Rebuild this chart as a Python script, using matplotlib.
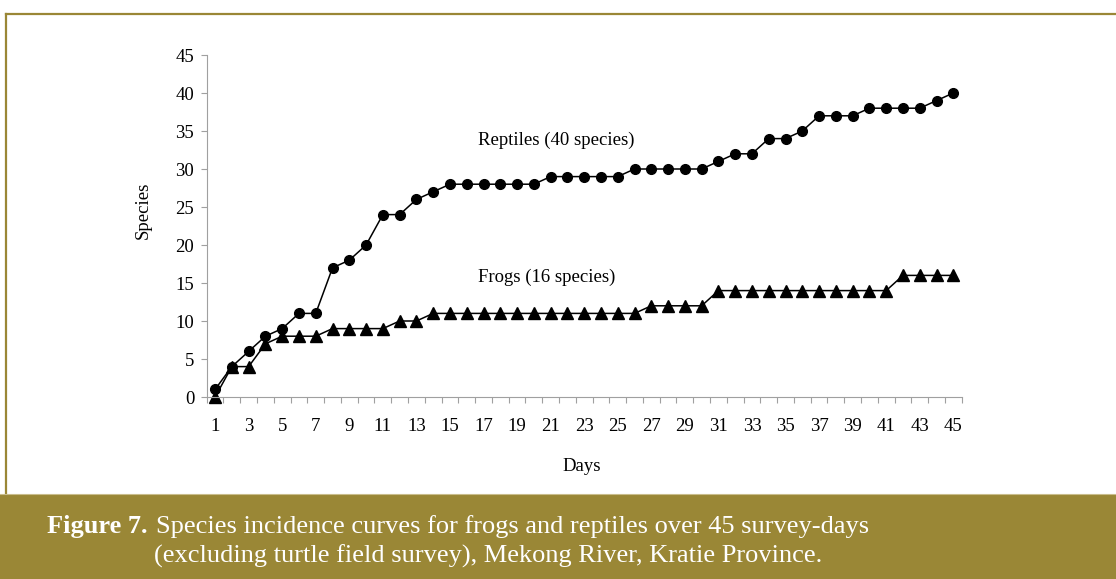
import matplotlib.pyplot as plt
from matplotlib.patches import Rectangle
from matplotlib.lines import Line2D
import numpy as np

plt.rcParams['font.family'] = ['Liberation Serif', 'DejaVu Serif']

days = list(range(1, 46))
reptiles = [1, 4, 6, 8, 9, 11, 11, 17, 18, 20, 24, 24, 26, 27, 28, 28, 28, 28, 28, 28,
            29, 29, 29, 29, 29, 30, 30, 30, 30, 30, 31, 32, 32, 34, 34, 35, 37, 37, 37,
            38, 38, 38, 38, 39, 40]
frogs = [0, 4, 4, 7, 8, 8, 8, 9, 9, 9, 9, 10, 10, 11, 11, 11, 11, 11, 11, 11,
         11, 11, 11, 11, 11, 11, 12, 12, 12, 12, 14, 14, 14, 14, 14, 14, 14, 14, 14,
         14, 14, 16, 16, 16, 16]
tick_days = days[::2]

olive = '#9a8736'
axis_grey = '#a0a0a0'

fig = plt.figure(figsize=(11.16, 5.79), dpi=100)
fig.patch.set_facecolor('white')

# frame and caption band
fig.add_artist(Rectangle((0, 0), 1, 84 / 579, transform=fig.transFigure,
                         facecolor=olive, edgecolor='none', zorder=0))
fig.add_artist(Line2D([6 / 1116, 1], [1 - 14 / 579, 1 - 14 / 579], transform=fig.transFigure,
                      color=olive, lw=1.6))
fig.add_artist(Line2D([6 / 1116, 6 / 1116], [84 / 579, 1 - 14 / 579], transform=fig.transFigure,
                      color=olive, lw=1.6))
fig.add_artist(Line2D([0, 1], [85 / 579, 85 / 579], transform=fig.transFigure,
                      color='#c9bd8c', lw=0.8))

ax = fig.add_axes([206.7 / 1116, 182 / 579, 755 / 1116, 342 / 579])
ax.plot(days, reptiles, color='black', lw=1.1, marker='o', markersize=7, clip_on=False)
ax.plot(days, frogs, color='black', lw=1.1, marker='^', markersize=8, clip_on=False)

ax.set_xlim(0.5, 45.5)
ax.set_ylim(0, 45)
ax.set_yticks(np.arange(0, 46, 5))
ax.set_xticks(tick_days)
ax.set_xticks(np.arange(0.5, 46, 1), minor=True)
ax.tick_params(axis='x', which='major', length=0, pad=15, labelsize=13.5)
ax.tick_params(axis='x', which='minor', length=4, color=axis_grey, width=0.8)
ax.tick_params(axis='y', length=4, color=axis_grey, width=0.8, pad=5, labelsize=13.5)

for s in ['top', 'right']:
    ax.spines[s].set_visible(False)
for s in ['left', 'bottom']:
    ax.spines[s].set_color(axis_grey)
    ax.spines[s].set_linewidth(0.8)

ax.set_ylabel('Species', fontsize=13.5)
ax.yaxis.set_label_coords(-0.0725, 0.547)
ax.set_xlabel('Days', fontsize=13.5)
ax.xaxis.set_label_coords(0.497, -0.178)

ax.text(0.36, 0.75, 'Reptiles (40 species)', transform=ax.transAxes,
        fontsize=13.5, ha='left', va='center')
ax.text(0.36, 0.351, 'Frogs (16 species)', transform=ax.transAxes,
        fontsize=13.5, ha='left', va='center')

fig.text(47 / 1116, 1 - 533 / 579, 'Figure 7.', color='white', fontsize=19,
         fontweight='bold', ha='left', va='baseline')
fig.text(156 / 1116, 1 - 533 / 579,
         'Species incidence curves for frogs and reptiles over 45 survey-days',
         color='white', fontsize=19, ha='left', va='baseline')
fig.text(154 / 1116, 1 - 563 / 579,
         '(excluding turtle field survey), Mekong River, Kratie Province.',
         color='white', fontsize=19, ha='left', va='baseline')

fig.savefig('out.png', dpi=100)
